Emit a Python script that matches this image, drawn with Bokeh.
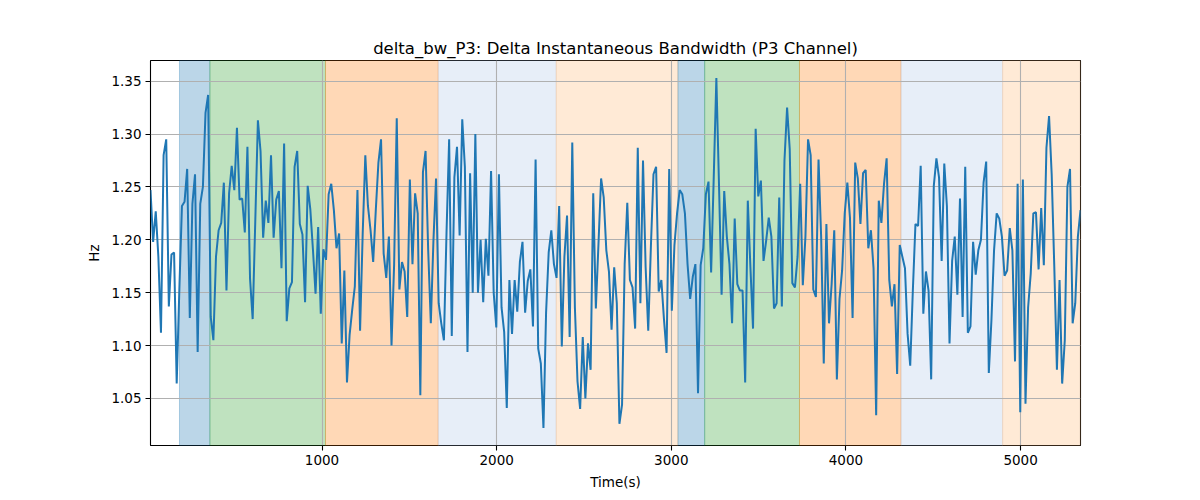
import numpy as np
from bokeh.plotting import figure
from bokeh.models import (Range1d, BoxAnnotation, SingleIntervalTicker,
                          NumeralTickFormatter)
from bokeh.embed import file_html
from bokeh.resources import INLINE

# ---------------- data ----------------
title_text = "delta_bw_P3: Delta Instantaneous Bandwidth (P3 Channel)"
x_label = "Time(s)"
y_label = "Hz"

t_start = 18.0      # s, first sample
t_step = 15.0       # s, sampling interval

delta_bw = [
    1.247, 1.198, 1.227, 1.184, 1.112, 1.280, 1.295, 1.137, 1.186, 1.188,
    1.064, 1.152, 1.232, 1.236, 1.267, 1.126, 1.234, 1.262, 1.094, 1.234,
    1.250, 1.320, 1.337, 1.127, 1.105, 1.184, 1.209, 1.216, 1.254, 1.152,
    1.244, 1.270, 1.247, 1.306, 1.238, 1.239, 1.207, 1.288, 1.163, 1.125,
    1.218, 1.313, 1.284, 1.202, 1.237, 1.216, 1.280, 1.202, 1.238, 1.246,
    1.173, 1.291, 1.123, 1.154, 1.160, 1.269, 1.284, 1.215, 1.205, 1.141,
    1.251, 1.229, 1.191, 1.149, 1.212, 1.130, 1.191, 1.181, 1.243, 1.253,
    1.228, 1.192, 1.206, 1.102, 1.171, 1.065, 1.110, 1.134, 1.156, 1.247,
    1.114, 1.206, 1.280, 1.232, 1.209, 1.179, 1.228, 1.273, 1.295, 1.187,
    1.164, 1.203, 1.100, 1.177, 1.315, 1.153, 1.179, 1.170, 1.127, 1.257,
    1.177, 1.244, 1.225, 1.053, 1.264, 1.284, 1.190, 1.121, 1.199, 1.258,
    1.140, 1.121, 1.105, 1.207, 1.295, 1.109, 1.259, 1.288, 1.204, 1.314,
    1.269, 1.094, 1.263, 1.150, 1.300, 1.150, 1.200, 1.141, 1.201, 1.166,
    1.265, 1.150, 1.117, 1.262, 1.136, 1.113, 1.041, 1.162, 1.111, 1.162,
    1.132, 1.179, 1.198, 1.131, 1.161, 1.172, 1.118, 1.276, 1.097, 1.083,
    1.022, 1.131, 1.188, 1.209, 1.177, 1.164, 1.232, 1.099, 1.184, 1.223,
    1.108, 1.292, 1.136, 1.066, 1.040, 1.108, 1.050, 1.102, 1.077, 1.244,
    1.135, 1.196, 1.258, 1.240, 1.190, 1.170, 1.115, 1.174, 1.140, 1.026,
    1.044, 1.177, 1.235, 1.162, 1.155, 1.116, 1.287, 1.140, 1.275, 1.174,
    1.114, 1.193, 1.262, 1.269, 1.151, 1.162, 1.125, 1.093, 1.267, 1.133,
    1.195, 1.225, 1.247, 1.243, 1.225, 1.177, 1.144, 1.165, 1.177, 1.055,
    1.176, 1.192, 1.243, 1.255, 1.169, 1.259, 1.353, 1.253, 1.148, 1.246,
    1.203, 1.177, 1.121, 1.220, 1.158, 1.152, 1.152, 1.065, 1.237, 1.174,
    1.116, 1.305, 1.241, 1.256, 1.180, 1.199, 1.221, 1.203, 1.135, 1.140,
    1.240, 1.137, 1.275, 1.325, 1.286, 1.159, 1.155, 1.184, 1.253, 1.157,
    1.203, 1.295, 1.280, 1.153, 1.146, 1.276, 1.203, 1.083, 1.215, 1.121,
    1.158, 1.209, 1.068, 1.144, 1.171, 1.225, 1.254, 1.221, 1.126, 1.273,
    1.258, 1.215, 1.263, 1.266, 1.192, 1.209, 1.173, 1.034, 1.237, 1.216,
    1.253, 1.277, 1.162, 1.137, 1.158, 1.073, 1.195, 1.184, 1.173, 1.111,
    1.081, 1.152, 1.215, 1.213, 1.270, 1.130, 1.170, 1.152, 1.068, 1.251,
    1.277, 1.259, 1.180, 1.272, 1.232, 1.102, 1.180, 1.203, 1.148, 1.239,
    1.127, 1.269, 1.112, 1.118, 1.198, 1.167, 1.190, 1.200, 1.254, 1.274,
    1.074, 1.124, 1.190, 1.225, 1.220, 1.203, 1.166, 1.171, 1.211, 1.190,
    1.085, 1.253, 1.037, 1.257, 1.045, 1.136, 1.168, 1.225, 1.226, 1.172,
    1.230, 1.176, 1.287, 1.317, 1.262, 1.174, 1.077, 1.162, 1.064, 1.105,
    1.250, 1.267, 1.121, 1.140, 1.203, 1.228,
]

# shaded segments (time in s) and their kind
segment_start = [184, 358, 1020, 1665, 2341, 3038, 3191, 3734, 4315, 4897]
segment_end = [358, 1020, 1665, 2341, 3038, 3191, 3734, 4315, 4897, 5343]
segment_kind = ["a", "b", "c", "d", "e", "a", "b", "c", "d", "e"]

y_ticks_step = 0.05
x_ticks_step = 1000

# ---------------- styling ----------------
kind_color = {"a": "#1f77b4", "b": "#2ca02c", "c": "#ff7f0e",
              "d": "#aec7e8", "e": "#ffbb78"}
FONT = "DejaVu Sans"

time = t_start + t_step * np.arange(len(delta_bw))
vals = np.array(delta_bw)
ymin, ymax = vals.min(), vals.max()
pad = 0.05 * (ymax - ymin)

p = figure(
    frame_width=930, frame_height=385,
    min_border_left=150, min_border_right=112,
    min_border_top=60, min_border_bottom=30,
    output_backend="svg", toolbar_location=None,
    x_range=Range1d(time[0], time[-1]),
    y_range=Range1d(ymin - pad, ymax + pad),
    title=title_text,
)

p.background_fill_color = "white"
p.border_fill_color = "white"
p.outline_line_color = "black"
p.outline_line_width = 1.1

p.title.text_font = FONT
p.title.text_font_size = "16.5px"
p.title.text_font_style = "normal"
p.title.align = "center"
p.title.text_color = "black"
p.title.standoff = 6

for s, e, k in zip(segment_start, segment_end, segment_kind):
    c = kind_color[k]
    p.add_layout(BoxAnnotation(left=s, right=e, fill_color=c, fill_alpha=0.3,
                               line_color=c, line_alpha=0.3, line_width=1,
                               level="image"))

p.line(time, vals, line_color="#1f77b4", line_width=2)

p.xaxis.ticker = SingleIntervalTicker(interval=x_ticks_step)
p.yaxis.ticker = SingleIntervalTicker(interval=y_ticks_step)
p.xaxis.formatter = NumeralTickFormatter(format="0")
p.yaxis.formatter = NumeralTickFormatter(format="0.00")

for ax in (p.xaxis, p.yaxis):
    ax.axis_label_text_font = FONT
    ax.axis_label_text_font_size = "13.5px"
    ax.axis_label_text_font_style = "normal"
    ax.axis_label_text_color = "black"
    ax.major_label_text_font = FONT
    ax.major_label_text_font_size = "13.5px"
    ax.major_label_text_color = "black"
    ax.axis_line_color = None
    ax.major_tick_line_color = "black"
    ax.major_tick_line_width = 1.1
    ax.major_tick_in = 0
    ax.major_tick_out = 5
    ax.minor_tick_line_color = None
    ax.major_label_standoff = 4
    ax.axis_label_standoff = 6

p.xaxis.axis_label = x_label
p.yaxis.axis_label = y_label

p.grid.grid_line_color = "#b0b0b0"
p.grid.grid_line_width = 1.1

open("out.html", "w").write(file_html(p, INLINE))
